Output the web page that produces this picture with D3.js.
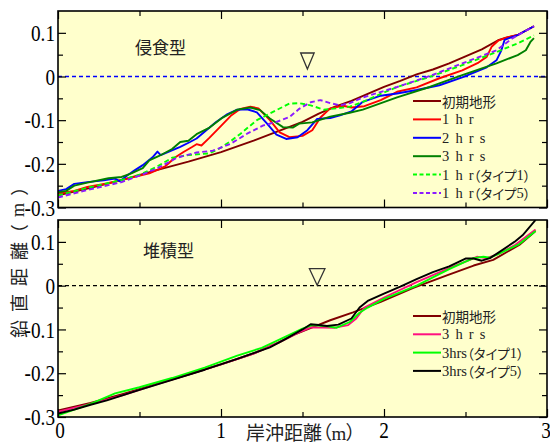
<!DOCTYPE html>
<html>
<head>
<meta charset="utf-8">
<script src="https://cdn.jsdelivr.net/npm/d3@7"></script>
<style>
  body { margin: 0; background: #ffffff; }
  svg { display: block; }
</style>
</head>
<body>
<svg id="chart" width="550" height="443"></svg>
<script>
// ---- axis values ----
const xDomain = [0, 3];
const yDomain = [-0.3, 0.15];
const xMajorTicks = [0, 1, 2, 3];
const xMinorTicks = [0.5, 1.5, 2.5];
const xTickLabels = ["0", "1", "2", "3"];
const yMajorTicks = [-0.3, -0.2, -0.1, 0, 0.1];
const yMinorTicks = [-0.25, -0.15, -0.05, 0.05];
const yTickLabels = ["-0.3", "-0.2", "-0.1", "0", "0.1"];

// ---- panel titles / legend labels ----
const panelTitles = ["侵食型", "堆積型"];
const erosionLabels = ["初期地形", "1 h r", "2 h r s", "3 h r s", "1 h r（タイプ1）", "1 h r（タイプ5）"];
const depositionLabels = ["初期地形", "3 h r s", "3hrs（タイプ1）", "3hrs（タイプ5）"];
const stillWaterX = [1.53, 1.59];   // still-water marker position (m)
const stillWaterLevel = 0;

// ---- erosion-type profiles [cross-shore distance (m), elevation (m)] ----
const erosionInitial = [[0,-0.272],[0.2,-0.255],[0.4,-0.236],[0.6,-0.215],[0.8,-0.195],[1.0,-0.173],[1.2,-0.147],[1.4,-0.118],[1.5,-0.104],[1.6,-0.085],[1.7,-0.069],[1.8,-0.056],[1.9,-0.040],[2.0,-0.024],[2.1,-0.010],[2.2,0.005],[2.3,0.016],[2.4,0.030],[2.5,0.046],[2.6,0.062],[2.7,0.083],[2.75,0.089],[2.82,0.095],[2.92,0.115]];
const erosion1hr = [[0,-0.268],[0.1,-0.262],[0.18,-0.253],[0.3,-0.245],[0.39,-0.237],[0.47,-0.230],[0.56,-0.222],[0.62,-0.212],[0.66,-0.205],[0.72,-0.185],[0.77,-0.173],[0.82,-0.162],[0.85,-0.155],[0.88,-0.158],[0.93,-0.140],[0.99,-0.117],[1.06,-0.090],[1.12,-0.074],[1.18,-0.069],[1.23,-0.073],[1.30,-0.100],[1.36,-0.128],[1.42,-0.139],[1.50,-0.136],[1.56,-0.123],[1.61,-0.094],[1.67,-0.073],[1.75,-0.067],[1.80,-0.071],[1.88,-0.068],[1.98,-0.054],[2.08,-0.035],[2.2,-0.025],[2.34,-0.004],[2.48,0.014],[2.58,0.032],[2.63,0.045],[2.66,0.068],[2.70,0.082],[2.75,0.089],[2.82,0.095],[2.92,0.115]];
const erosion2hrs = [[0,-0.262],[0.05,-0.258],[0.10,-0.246],[0.18,-0.242],[0.28,-0.238],[0.35,-0.234],[0.38,-0.240],[0.42,-0.228],[0.47,-0.215],[0.52,-0.203],[0.58,-0.185],[0.61,-0.172],[0.63,-0.180],[0.67,-0.174],[0.75,-0.161],[0.81,-0.150],[0.85,-0.142],[0.91,-0.123],[0.97,-0.104],[1.04,-0.086],[1.10,-0.076],[1.16,-0.075],[1.22,-0.082],[1.28,-0.107],[1.34,-0.133],[1.40,-0.143],[1.47,-0.139],[1.53,-0.123],[1.59,-0.097],[1.67,-0.095],[1.73,-0.089],[1.80,-0.080],[1.87,-0.058],[1.98,-0.044],[2.08,-0.039],[2.2,-0.031],[2.34,-0.020],[2.48,-0.002],[2.63,0.021],[2.69,0.037],[2.72,0.060],[2.74,0.084],[2.82,0.095],[2.92,0.115]];
const erosion3hrs = [[0,-0.265],[0.05,-0.262],[0.10,-0.250],[0.18,-0.243],[0.31,-0.233],[0.39,-0.230],[0.45,-0.222],[0.52,-0.210],[0.56,-0.192],[0.62,-0.182],[0.70,-0.166],[0.75,-0.150],[0.80,-0.147],[0.85,-0.132],[0.93,-0.117],[1.01,-0.094],[1.10,-0.076],[1.18,-0.071],[1.24,-0.077],[1.30,-0.096],[1.38,-0.116],[1.44,-0.117],[1.48,-0.108],[1.56,-0.105],[1.67,-0.092],[1.79,-0.083],[1.87,-0.076],[2.08,-0.048],[2.28,-0.024],[2.48,0.003],[2.69,0.030],[2.82,0.049],[2.87,0.060],[2.90,0.080],[2.92,0.088]];
const erosion1hrType1 = [[0,-0.272],[0.18,-0.255],[0.39,-0.237],[0.5,-0.225],[0.6,-0.208],[0.7,-0.186],[0.8,-0.180],[0.93,-0.176],[0.99,-0.165],[1.06,-0.148],[1.12,-0.131],[1.22,-0.100],[1.34,-0.077],[1.42,-0.062],[1.48,-0.061],[1.55,-0.066],[1.63,-0.076],[1.71,-0.073],[1.79,-0.069],[1.87,-0.058],[1.98,-0.040],[2.08,-0.024],[2.28,-0.001],[2.48,0.026],[2.69,0.056],[2.82,0.076],[2.92,0.094]];
const erosion1hrType5 = [[0,-0.277],[0.18,-0.260],[0.39,-0.242],[0.5,-0.227],[0.61,-0.210],[0.73,-0.186],[0.85,-0.174],[0.95,-0.170],[1.06,-0.154],[1.16,-0.131],[1.26,-0.112],[1.34,-0.104],[1.42,-0.093],[1.48,-0.074],[1.55,-0.059],[1.61,-0.054],[1.67,-0.061],[1.73,-0.066],[1.79,-0.061],[1.87,-0.048],[2.08,-0.024],[2.28,0.001],[2.48,0.030],[2.69,0.060],[2.79,0.088],[2.92,0.115]];

// ---- deposition-type profiles ----
const depositionInitial = [[0,-0.285],[0.2,-0.268],[0.4,-0.247],[0.6,-0.225],[0.8,-0.203],[1.0,-0.180],[1.2,-0.155],[1.36,-0.129],[1.45,-0.112],[1.56,-0.095],[1.67,-0.079],[1.81,-0.061],[1.98,-0.037],[2.18,-0.005],[2.39,0.024],[2.55,0.046],[2.67,0.059],[2.83,0.093],[2.93,0.125]];
const deposition3hrs = [[0,-0.288],[0.2,-0.270],[0.4,-0.250],[0.6,-0.226],[0.8,-0.203],[1.0,-0.180],[1.2,-0.155],[1.35,-0.130],[1.5,-0.103],[1.55,-0.095],[1.7,-0.096],[1.78,-0.090],[1.83,-0.075],[1.88,-0.050],[2.0,-0.027],[2.2,0.008],[2.4,0.040],[2.5,0.055],[2.57,0.066],[2.63,0.063],[2.7,0.072],[2.8,0.092],[2.93,0.128]];
const deposition3hrsType1 = [[0,-0.296],[0.2,-0.270],[0.35,-0.246],[0.5,-0.232],[0.7,-0.211],[0.9,-0.187],[1.1,-0.160],[1.25,-0.142],[1.4,-0.116],[1.5,-0.098],[1.56,-0.090],[1.65,-0.093],[1.71,-0.096],[1.79,-0.083],[1.85,-0.062],[1.9,-0.050],[2.0,-0.030],[2.2,0.000],[2.4,0.038],[2.5,0.055],[2.55,0.063],[2.61,0.066],[2.65,0.064],[2.7,0.072],[2.83,0.095],[2.93,0.125]];
const deposition3hrsType5 = [[0,-0.292],[0.1,-0.283],[0.2,-0.272],[0.3,-0.262],[0.5,-0.238],[0.7,-0.215],[0.9,-0.192],[1.1,-0.167],[1.3,-0.141],[1.4,-0.121],[1.5,-0.100],[1.55,-0.088],[1.6,-0.090],[1.65,-0.092],[1.72,-0.089],[1.8,-0.075],[1.85,-0.050],[1.9,-0.035],[2.0,-0.018],[2.1,-0.002],[2.2,0.015],[2.3,0.031],[2.4,0.044],[2.5,0.062],[2.55,0.062],[2.6,0.057],[2.65,0.063],[2.7,0.075],[2.8,0.100],[2.85,0.115],[2.93,0.150]];

// ---- styling ----
const serif = "'Liberation Serif', 'Times New Roman', serif";
const cjk = "'Noto Sans CJK JP', 'Noto Sans CJK SC', sans-serif";
const bgColor = "#FFFFCC";

const panels = [
  {
    top: 11, bottom: 207.5,
    title: panelTitles[0], titleX: 135, titleY: 46.5,
    water: "#0000FF",
    markX: stillWaterX[0], markGap: 7.5, markW: 13.5, markH: 16,
    legendY: 101, legendStep: 18.4,
    series: [
      { data: erosionInitial, label: erosionLabels[0], color: "#800000", dash: null },
      { data: erosion1hr, label: erosionLabels[1], color: "#FF0000", dash: null },
      { data: erosion2hrs, label: erosionLabels[2], color: "#0000FF", dash: null },
      { data: erosion3hrs, label: erosionLabels[3], color: "#008000", dash: null },
      { data: erosion1hrType1, label: erosionLabels[4], color: "#00FF00", dash: "5,3" },
      { data: erosion1hrType5, label: erosionLabels[5], color: "#8C1AFF", dash: "5,3" }
    ]
  },
  {
    top: 220, bottom: 417,
    title: panelTitles[1], titleX: 143, titleY: 249,
    water: "#000000",
    markX: stillWaterX[1], markGap: 0.5, markW: 15.5, markH: 16.5,
    legendY: 316, legendStep: 18.3,
    series: [
      { data: depositionInitial, label: depositionLabels[0], color: "#800000", dash: null },
      { data: deposition3hrs, label: depositionLabels[1], color: "#FF1080", dash: null },
      { data: deposition3hrsType1, label: depositionLabels[2], color: "#00FF00", dash: null },
      { data: deposition3hrsType5, label: depositionLabels[3], color: "#000000", dash: null }
    ]
  }
];

const svg = d3.select("#chart");
const x = d3.scaleLinear().domain(xDomain).range([58, 547]);

// write a label as runs of serif Latin text and Japanese text
function writeRuns(textSel, str, cjkSize, latinSize, wordSpacing) {
  const runs = str.match(/[A-Za-z0-9 .]+|[^A-Za-z0-9 .]+/g) || [];
  runs.forEach(r => {
    const isLatin = /^[A-Za-z0-9 .]+$/.test(r);
    textSel.append("tspan")
      .attr("font-family", isLatin ? serif : cjk)
      .attr("font-size", isLatin ? latinSize : cjkSize)
      .style("white-space", "pre")
      .style("word-spacing", isLatin ? wordSpacing + "px" : null)
      .style("font-feature-settings", isLatin ? null : "'palt'")
      .text(r);
  });
}

panels.forEach((p, pi) => {
  const y = d3.scaleLinear().domain(yDomain).range([p.bottom, p.top]);
  const g = svg.append("g");
  const w = x.range()[1] - x.range()[0];
  const h = p.bottom - p.top;

  g.append("rect")
    .attr("x", x.range()[0]).attr("y", p.top)
    .attr("width", w).attr("height", h)
    .attr("fill", bgColor);

  const clipId = "clip" + pi;
  g.append("clipPath").attr("id", clipId)
    .append("rect")
    .attr("x", x.range()[0]).attr("y", p.top)
    .attr("width", w).attr("height", h);

  const plot = g.append("g").attr("clip-path", `url(#${clipId})`);

  // still-water level
  plot.append("line")
    .attr("x1", x(xDomain[0])).attr("x2", x(xDomain[1]))
    .attr("y1", y(stillWaterLevel)).attr("y2", y(stillWaterLevel))
    .attr("stroke", p.water).attr("stroke-width", 1.3)
    .attr("stroke-dasharray", "4,3");

  const line = d3.line().x(d => x(d[0])).y(d => y(d[1]));
  p.series.forEach(s => {
    plot.append("path")
      .attr("d", line(s.data))
      .attr("fill", "none")
      .attr("stroke", s.color)
      .attr("stroke-width", 1.9)
      .attr("stroke-linejoin", "round")
      .attr("stroke-dasharray", s.dash);
  });

  // inward ticks on all four sides
  const tickStyle = sel => {
    sel.select(".domain").remove();
    sel.selectAll("line").attr("stroke", "#000").attr("stroke-width", 1.2);
  };
  const addAxis = (axisFn, scale, ticks, size, transform) => {
    g.append("g").attr("transform", transform)
      .call(axisFn(scale).tickValues(ticks).tickSize(-size).tickFormat(""))
      .call(tickStyle);
  };
  [[yMajorTicks, 8], [yMinorTicks, 5]].forEach(([t, s]) => {
    addAxis(d3.axisLeft, y, t, s, `translate(${x.range()[0]},0)`);
    addAxis(d3.axisRight, y, t, s, `translate(${x.range()[1]},0)`);
  });
  [[xMajorTicks, 8], [xMinorTicks, 5]].forEach(([t, s]) => {
    addAxis(d3.axisBottom, x, t, s, `translate(0,${p.bottom})`);
    addAxis(d3.axisTop, x, t, s, `translate(0,${p.top})`);
  });

  g.append("rect")
    .attr("x", x.range()[0]).attr("y", p.top)
    .attr("width", w).attr("height", h)
    .attr("fill", "none").attr("stroke", "#000").attr("stroke-width", 1.6);

  // y tick labels
  yMajorTicks.forEach((v, i) => {
    g.append("text")
      .attr("transform", `translate(${x.range()[0] - 3},${y(v)}) scale(0.8,1)`)
      .attr("text-anchor", "end")
      .attr("dy", "0.34em")
      .attr("font-family", serif).attr("font-size", 24)
      .attr("fill", "#000")
      .text(yTickLabels[i]);
  });

  // panel title
  g.append("text")
    .attr("x", p.titleX).attr("y", p.titleY)
    .attr("dominant-baseline", "central")
    .attr("font-family", cjk).attr("font-size", 17)
    .attr("fill", "#222")
    .text(p.title);

  // still-water marker
  const mx = x(p.markX), my = y(stillWaterLevel) - p.markGap;
  g.append("path")
    .attr("d", `M${mx - p.markW / 2},${my - p.markH}L${mx + p.markW / 2},${my - p.markH}L${mx},${my}Z`)
    .attr("fill", "none").attr("stroke", "#333").attr("stroke-width", 1.3);

  // legend
  p.series.forEach((s, i) => {
    const ly = p.legendY + i * p.legendStep;
    g.append("line")
      .attr("x1", 413).attr("x2", 441)
      .attr("y1", ly).attr("y2", ly)
      .attr("stroke", s.color).attr("stroke-width", 2)
      .attr("stroke-dasharray", s.dash ? "4,2.5" : null);
    const t = g.append("text")
      .attr("x", 442).attr("y", ly)
      .attr("dominant-baseline", "central")
      .attr("fill", "#222");
    writeRuns(t, s.label, 13.5, 14.5, 2.5);
  });

  // x tick labels under the lower panel
  if (pi === panels.length - 1) {
    xMajorTicks.forEach((v, i) => {
      g.append("text")
        .attr("transform", `translate(${x(v) + (i === 0 ? 2 : 0) - (i === xMajorTicks.length - 1 ? 1 : 0)},438) scale(0.8,1)`)
        .attr("text-anchor", "middle")
        .attr("font-family", serif).attr("font-size", 24)
        .attr("fill", "#000")
        .text(xTickLabels[i]);
    });
  }
});

// axis titles
const xTitle = svg.append("text")
  .attr("x", 246).attr("y", 439.5)
  .attr("fill", "#222");
writeRuns(xTitle, "岸沖距離（m）", 19, 19, 0);

const yTitle = svg.append("text")
  .attr("transform", "translate(17.5,338) rotate(-90)")
  .attr("dominant-baseline", "central")
  .attr("fill", "#222")
  .style("letter-spacing", "8px");
writeRuns(yTitle, "鉛直距離（m）", 18, 18, 0);
</script>
</body>
</html>
